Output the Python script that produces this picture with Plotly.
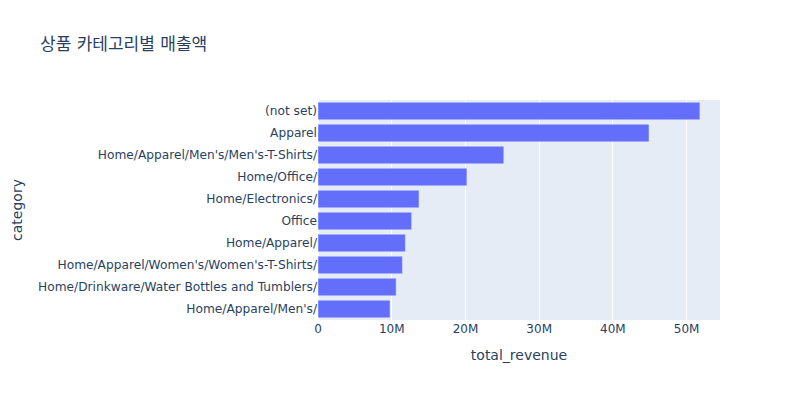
import plotly.graph_objects as go

categories = [
    "(not set)",
    "Apparel",
    "Home/Apparel/Men's/Men's-T-Shirts/",
    "Home/Office/",
    "Home/Electronics/",
    "Office",
    "Home/Apparel/",
    "Home/Apparel/Women's/Women's-T-Shirts/",
    "Home/Drinkware/Water Bottles and Tumblers/",
    "Home/Apparel/Men's/",
]
total_revenue = [51.8e6, 44.9e6, 25.2e6, 20.2e6, 13.7e6, 12.7e6, 11.85e6, 11.45e6, 10.6e6, 9.77e6]

fig = go.Figure(
    go.Bar(
        x=total_revenue,
        y=categories,
        orientation="h",
        marker=dict(color="#636efa"),
    )
)
fig.update_layout(
    template="plotly",
    width=800,
    height=400,
    title=dict(text="상품 카테고리별 매출액"),
    font=dict(family='"DejaVu Sans", "Noto Sans CJK KR", sans-serif'),
    xaxis=dict(title=dict(text="total_revenue")),
    yaxis=dict(title=dict(text="category", standoff=12), autorange="reversed",
               tickfont=dict(size=12.2)),
    margin=dict(l=318, t=100, b=80, r=80),
)
fig.write_html(
    "out.html",
    config={"displayModeBar": False},
    post_script="document.body.style.margin='0';",
)
